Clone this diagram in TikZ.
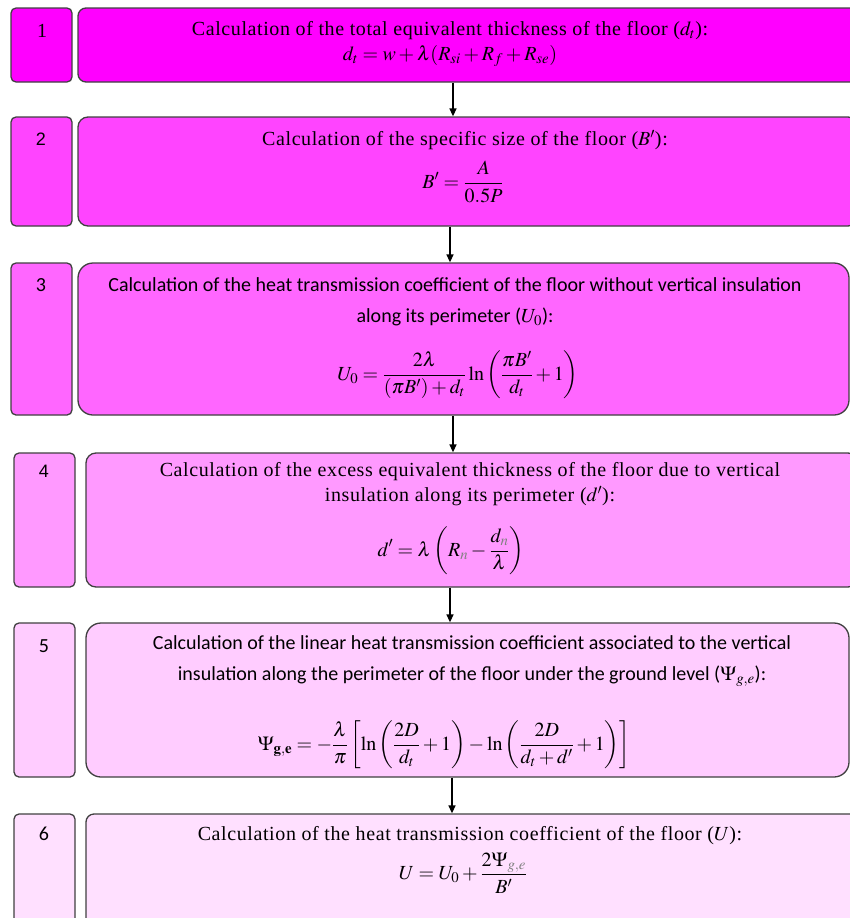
\documentclass[tikz,border=0pt]{standalone}
\usepackage{mathptmx}
\usepackage{fontspec}
\setmainfont[LetterSpace=3]{Liberation Serif}
\newfontfamily\calfont{Carlito}
\newfontfamily\arialfont{Liberation Sans}
\usetikzlibrary{arrows.meta, calc}
\definecolor{cPaso1}{HTML}{FF00FF}
\definecolor{cPaso2}{HTML}{FF44FF}
\definecolor{cPaso3}{HTML}{FF66FF}
\definecolor{cPaso4}{HTML}{FF99FF}
\definecolor{cPaso5}{HTML}{FFCCFF}
\definecolor{cPaso6}{HTML}{FFE0FF}
\definecolor{cBorde}{HTML}{404040}

\begin{document}
\begin{tikzpicture}[
    x=1pt, y=-1pt,
    caja/.style={draw=cBorde, line width=1.3pt, inner sep=0pt},
    num/.style={font=\fontsize{20}{24}\selectfont, inner sep=0pt},
    txt/.style={font=\fontsize{20}{25}\selectfont, inner sep=0pt, align=center},
    stxt/.style={font=\calfont\fontsize{20}{31}\selectfont, inner sep=0pt,
                 align=center},
    frm/.style={font=\fontsize{20}{24}\selectfont, inner sep=0pt},
    flecha/.style={-{Triangle[length=8pt, width=7pt]}, line width=1.5pt, black},
]
\clip (0,0) rectangle (850,918);

% ===========================================================================
% Cajas: numero a la izquierda, calculo a la derecha
% ===========================================================================
\foreach \k/\xs/\xl/\xr/\yt/\yb/\rb in {
    1/11/78/858/8/82/8, 2/11/78/858/117/226/10, 3/11/78/849/263/415/15,
    4/14/86/858/453/587/10, 5/14/86/849/623/777/15, 6/14/86/858/814/940/8} {
  \node[caja, fill=cPaso\k, rounded corners=5pt, minimum width=61,
        minimum height={\yb-\yt}] (n\k) at ({\xs+30.5},{(\yt+\yb)/2}) {};
  \node[caja, fill=cPaso\k, rounded corners=\rb pt, minimum width={\xr-\xl},
        minimum height={\yb-\yt}] (b\k) at ({(\xl+\xr)/2},{(\yt+\yb)/2}) {};
}

% ----- Numeros de paso -----
\node[num] (k1) at (42,31) {1};
\node[num, font=\arialfont\fontsize{18}{21}\selectfont] (k2) at (41,139) {2};
\node[num, font=\calfont\fontsize{20}{24}\selectfont] (k3) at (41,285) {3};
\node[num, font=\arialfont\fontsize{18}{21}\selectfont] (k4) at (44,471) {4};
\node[num, font=\calfont\fontsize{20}{24}\selectfont] (k5) at (44,646) {5};
\node[num, font=\calfont\fontsize{20}{24}\selectfont] (k6) at (44,834) {6};

% ===========================================================================
% Textos y formulas
% ===========================================================================
\node[txt] (c1) at (450,31)
      {Calculation of the total equivalent thickness of the floor ($d_t$):};
\node[frm] (f1) at (450,56) {$d_t = w + \lambda(R_{si} + R_f + R_{se})$};

\node[txt] (c2) at (465,140)
      {Calculation of the specific size of the floor ($B'$):};
\node[frm] (f2) at (463,182) {$\displaystyle B' = \frac{A}{0.5P}$};

\node[stxt] (c3) at (455,302)
      {Calculation of the heat transmission coefficient of the floor without vertical insulation\\
       along its perimeter ($U_0$):};
\node[frm] (f3) at (458,375)
      {$\displaystyle U_0 = \frac{2\lambda}{(\pi B') + d_t}
        \ln\left(\frac{\pi B'}{d_t} + 1\right)$};

\node[txt] (c4) at (470,484)
      {Calculation of the excess equivalent thickness of the floor due to vertical\\
       insulation along its perimeter ($d'$):};
\node[frm] (f4) at (451,551)
      {$\displaystyle d' = \lambda\left(R_{\textcolor{gray}{n}}
        - \frac{d_{\textcolor{gray}{n}}}{\lambda}\right)$};

\node[stxt] (c5) at (472,661)
      {Calculation of the linear heat transmission coefficient associated to the vertical\\
       insulation along the perimeter of the floor under the ground level ($\Psi_{g,e}$):};
\node[frm] (f5) at (444,745)
      {$\displaystyle \Psi_{\mathbf{g,e}} = -\frac{\lambda}{\pi}
        \left[\ln\left(\frac{2D}{d_t} + 1\right)
        - \ln\left(\frac{2D}{d_t + d'} + 1\right)\right]$};

\node[txt] (c6) at (470,836)
      {Calculation of the heat transmission coefficient of the floor ($U$):};
\node[frm] (f6) at (463,873)
      {$\displaystyle U = U_0 + \frac{2\Psi_{\textcolor{gray}{g,e}}}{B'}$};

% ===========================================================================
% Flechas entre pasos
% ===========================================================================
\draw[flecha] (b1.south -| 453,0) -- (b2.north -| 453,0);
\draw[flecha] (b2.south -| 450,0) -- (b3.north -| 450,0);
\draw[flecha] (b3.south -| 453,0) -- (b4.north -| 453,0);
\draw[flecha] (b4.south -| 450,0) -- (b5.north -| 450,0);
\draw[flecha] (b5.south -| 452,0) -- (b6.north -| 452,0);

\end{tikzpicture}
\end{document}
